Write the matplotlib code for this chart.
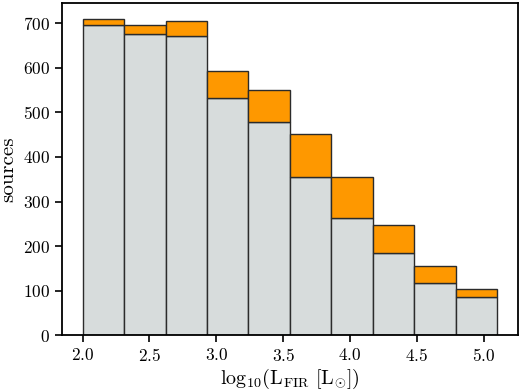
import matplotlib
matplotlib.use("Agg")
import matplotlib.pyplot as plt
import numpy as np

# histogram data
bin_edges = np.linspace(2.0, 5.1, 11)
counts_grey = [697, 677, 671, 533, 479, 356, 262, 184, 116, 86]
counts_orange = [13, 19, 35, 60, 72, 95, 94, 63, 39, 18]

plt.rcParams['font.family'] = 'serif'
plt.rcParams['font.serif'] = ['cmr10', 'DejaVu Serif']
plt.rcParams['mathtext.fontset'] = 'cm'
plt.rcParams['axes.formatter.use_mathtext'] = True

fig = plt.figure(figsize=(5.2, 3.91), dpi=100)
ax = fig.add_axes([0.119, 0.143, 0.877, 0.849])

centers = 0.5 * (bin_edges[:-1] + bin_edges[1:])
ax.hist([centers, centers], bins=bin_edges, weights=[counts_grey, counts_orange],
        stacked=True, histtype='bar', rwidth=1.0,
        color=['#d7dcdc', '#fe9800'], edgecolor='#2b2b2b', linewidth=1.0)

ax.set_xlabel(r'$\mathrm{log}_{10}(\mathrm{L}_{\mathrm{FIR}}\ [\mathrm{L}_{\odot}])$',
              fontsize=14.5, labelpad=2)
ax.set_ylabel('sources', fontsize=15, labelpad=4)
ax.set_xticks([2.0, 2.5, 3.0, 3.5, 4.0, 4.5, 5.0])
ax.set_yticks(range(0, 701, 100))
ax.tick_params(direction='out', length=5, width=1.2, labelsize=12.5)
for s in ax.spines.values():
    s.set_linewidth(1.3)

fig.savefig('out.png', dpi=100)
